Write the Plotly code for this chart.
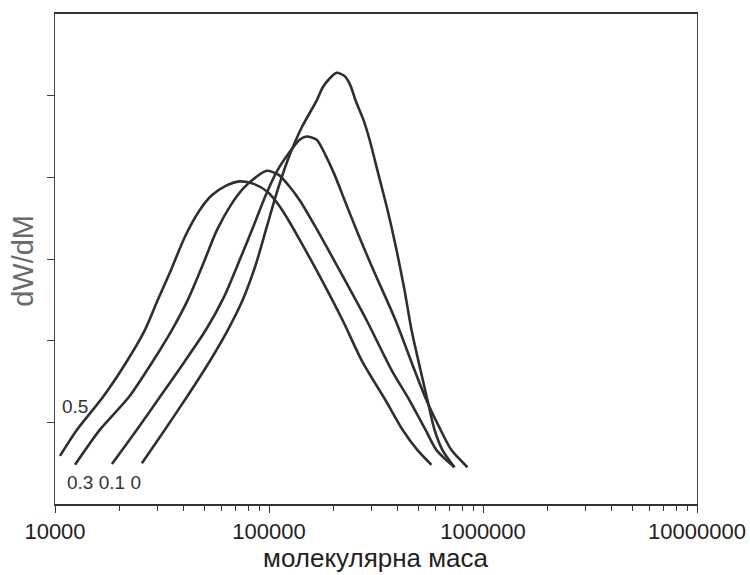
import plotly.graph_objects as go

# ---- data (molecular mass, dW/dM in tick units) ----
series_names = ["0.5", "0.3", "0.1", "0"]

m_05 = [10550, 12670, 16750, 21450, 26300, 30240, 34780, 40420, 47500, 54040, 62140, 73010,
        84860, 98610, 110990, 124900, 143640, 166940, 220770, 270840, 350450, 420650, 494230,
        574410]
w_05 = [0.59, 0.91, 1.31, 1.73, 2.13, 2.50, 2.86, 3.27, 3.60, 3.78, 3.89, 3.95,
        3.92, 3.82, 3.66, 3.45, 3.17, 2.86, 2.25, 1.76, 1.27, 0.91, 0.66,
        0.48]

m_03 = [12400, 16220, 22150, 28360, 35160, 41750, 49050, 57020, 66280, 76220, 86700, 97560,
        110990, 123570, 139090, 165160, 213760, 285780, 373790, 453510, 538540, 606120, 735580]
w_03 = [0.48, 0.91, 1.31, 1.73, 2.13, 2.50, 2.93, 3.35, 3.66, 3.87, 4.00, 4.08,
        4.03, 3.90, 3.72, 3.39, 2.86, 2.25, 1.64, 1.27, 0.91, 0.66, 0.45]

m_01 = [18450, 24130, 30900, 39990, 50660, 61480, 73010, 84860, 96520, 109800, 124900, 139090,
        149960, 166940, 183860, 202580, 225560, 262240, 308090, 390220, 478540, 544350, 632760,
        712230, 845830]
w_01 = [0.49, 0.91, 1.31, 1.73, 2.13, 2.53, 2.99, 3.41, 3.78, 4.09, 4.31, 4.46,
        4.50, 4.46, 4.27, 4.03, 3.72, 3.29, 2.86, 2.25, 1.64, 1.27, 0.91,
        0.66, 0.45]

m_00 = [25470, 32610, 41300, 52320, 64180, 75410, 86700, 97560, 108630, 122250, 142110, 166940,
        178040, 191980, 206980, 225560, 240590, 253860, 276630, 295120, 325060, 358050, 394430,
        429790, 463360, 510420, 550230, 593230, 646510, 735580]
w_00 = [0.50, 0.91, 1.31, 1.73, 2.13, 2.50, 2.93, 3.39, 3.81, 4.21, 4.61, 4.94,
        5.10, 5.21, 5.28, 5.24, 5.12, 4.94, 4.70, 4.46, 4.03, 3.60, 3.11,
        2.62, 2.13, 1.64, 1.27, 0.91, 0.66, 0.45]

x_tick_vals = [10000, 100000, 1000000, 10000000]
x_tick_text = ["10000", "100000", "1000000", "10000000"]
y_tick_vals = [1, 2, 3, 4, 5]

x_title = "молекулярна маса"
y_title = "dW/dM"

# ---- figure ----
LINE = "#2f2f2f"
fig = go.Figure()
for name, xs, ys in [("0.5", m_05, w_05), ("0.3", m_03, w_03), ("0.1", m_01, w_01), ("0", m_00, w_00)]:
    fig.add_trace(go.Scatter(x=xs, y=ys, mode="lines", name=name,
                             line=dict(color=LINE, width=2.6, shape="spline", smoothing=0.7),
                             showlegend=False, hoverinfo="skip"))

minor_vals = [k * 10 ** e for e in range(4, 7) for k in range(2, 10)]

fig.update_layout(
    width=750, height=575,
    margin=dict(l=55, r=53, t=14, b=71, autoexpand=False),
    paper_bgcolor="white", plot_bgcolor="white",
    font=dict(family="Liberation Sans, Arial, sans-serif", color="#222"),
    xaxis=dict(type="log", range=[4, 7], tickmode="array", tickvals=x_tick_vals,
               ticktext=x_tick_text, ticks="outside", ticklen=7, tickwidth=1.3,
               tickcolor="#333", showline=True, linecolor="#333", linewidth=1.5,
               mirror=True, showgrid=False, zeroline=False, automargin=False,
               tickfont=dict(size=22, color="#222"),
               minor=dict(tickmode="array", tickvals=minor_vals, ticks="outside",
                          ticklen=5, tickwidth=1.2, tickcolor="#333", showgrid=False)),
    yaxis=dict(range=[0, 6], tickmode="array", tickvals=y_tick_vals,
               ticktext=["" for _ in y_tick_vals], ticks="outside", ticklen=7,
               tickwidth=1.2, tickcolor="#444", showline=True, linecolor="#444",
               linewidth=1.3, mirror=True, showgrid=False, zeroline=False, automargin=False),
)

fig.add_annotation(x=4.023, y=1.19, xref="x", yref="y", text="0.5", showarrow=False,
                   xanchor="left", yanchor="middle", font=dict(size=19, color="#333"))
fig.add_annotation(x=4.047, y=0.26, xref="x", yref="y", text="0.3 0.1 0", showarrow=False,
                   xanchor="left", yanchor="middle", font=dict(size=19, color="#333"))
fig.add_annotation(x=0.5, y=-0.11, xref="paper", yref="paper", text=x_title, showarrow=False,
                   xanchor="center", yanchor="middle", font=dict(size=26, color="#222"))
fig.add_annotation(x=-0.05, y=0.496, xref="paper", yref="paper", text=y_title, showarrow=False,
                   textangle=-90, xanchor="center", yanchor="middle",
                   font=dict(size=29, color="#6a6a6a"))

fig.write_html("out.html", config={"displayModeBar": False},
               post_script="document.body.style.margin='0px';document.body.style.overflow='hidden';")
